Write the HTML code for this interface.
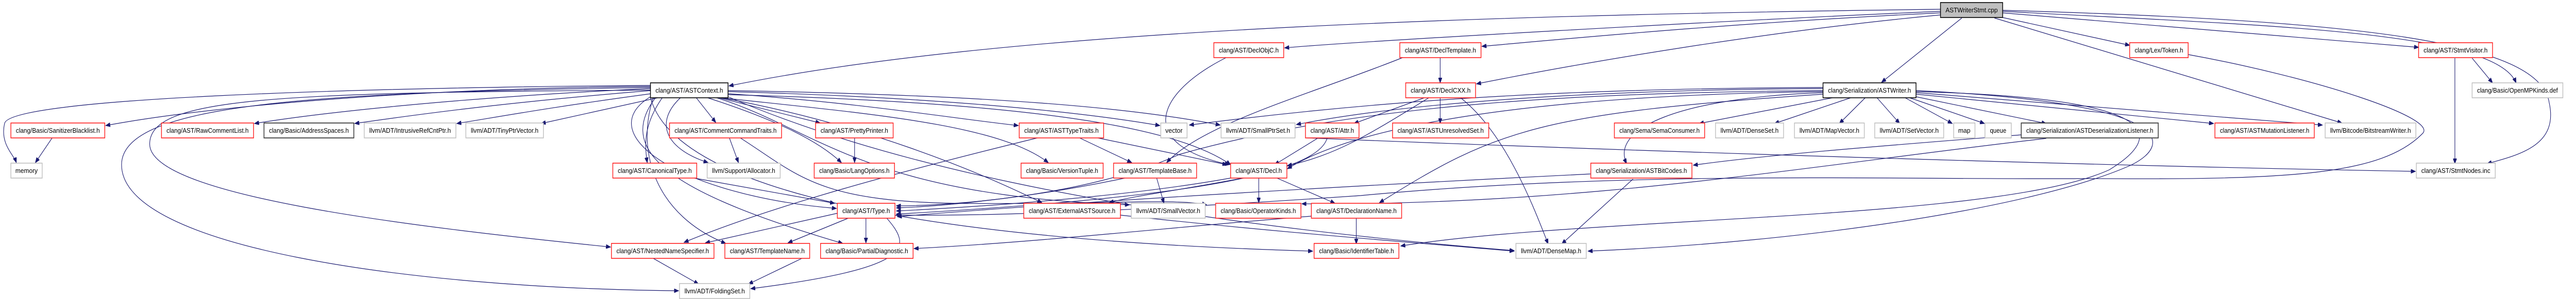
<!DOCTYPE html>
<html><head><meta charset="utf-8"><style>
html,body{margin:0;padding:0;background:#fff;overflow:hidden;width:100%;height:100%;}
svg{display:block;width:100vw;height:100vh;}
text{font-family:"Liberation Sans",sans-serif;font-size:12.5px;fill:#000;}
.r{fill:#fff;stroke:#ff2020;stroke-width:1.6;}
.g{fill:#fff;stroke:#bfbfbf;stroke-width:1.6;}
.k{fill:#fff;stroke:#000;stroke-width:1.6;}
.d{fill:#fff;stroke:#404040;stroke-width:1.8;}
.m{fill:#bfbfbf;stroke:#000;stroke-width:1.6;}
path.e{fill:none;stroke:#191970;stroke-width:1.2;marker-end:url(#a);}
</style></head><body>
<svg viewBox="0 0 5679 581" preserveAspectRatio="none" xmlns="http://www.w3.org/2000/svg">
<defs><marker id="a" markerUnits="userSpaceOnUse" markerWidth="11" markerHeight="8" refX="10" refY="4" orient="auto"><path d="M0,0 L10,4 L0,8 z" fill="#191970" stroke="#191970"/></marker></defs>
<g>
<path class="e" d="M4278,22 C3800,40 3000,80 2832,93"/>
<path class="e" d="M4278,25 C3800,45 3400,80 3267,90"/>
<path class="e" d="M4278,18 C3200,30 2200,60 1607,167"/>
<path class="e" d="M4278,29 C3900,60 3500,120 3255,163"/>
<path class="e" d="M4325,35 L4148,160"/>
<path class="e" d="M4415,34 L4695,88"/>
<path class="e" d="M4415,25 L5332,92"/>
<path class="e" d="M4415,22 C5000,50 5500,60 5547,161"/>
<path class="e" d="M4415,20 C5200,40 5600,80 5620,200 C5640,280 5560,300 5483,318"/>
<path class="e" d="M4397,35 L5163,239"/>
<path class="e" d="M4040,190 L3746,240"/>
<path class="e" d="M4080,190 L3912,240"/>
<path class="e" d="M4112,190 L4055,240"/>
<path class="e" d="M4138,190 L4188,240"/>
<path class="e" d="M4200,190 L4304,240"/>
<path class="e" d="M4210,190 L4375,240"/>
<path class="e" d="M4224,188 L4511,240"/>
<path class="e" d="M4224,183 L4880,240"/>
<path class="e" d="M4224,180 L5120,243"/>
<path class="e" d="M4019,180 C3700,190 3550,250 3586,318"/>
<path class="e" d="M4019,176 C3500,180 3000,200 2600,300 C2400,380 2100,400 1976,400"/>
<path class="e" d="M4019,178 C3400,185 3000,240 2838,328"/>
<path class="e" d="M4019,172 C3500,175 3100,200 2858,242"/>
<path class="e" d="M4019,170 C3400,172 3000,200 2622,243"/>
<path class="e" d="M4019,183 C3400,220 3300,250 3041,394"/>
<path class="e" d="M4224,176 C4800,200 4790,280 4700,320 C4500,400 4000,470 3501,488"/>
<path class="e" d="M4224,178 C4760,190 4780,260 4650,330 C4400,430 3500,420 3088,478"/>
<path class="e" d="M4456,262 C4200,280 3900,300 3733,321"/>
<path class="e" d="M4511,269 C4000,320 3500,400 2870,396"/>
<path class="e" d="M4824,106 C5100,150 5380,230 5340,260 C5250,340 5050,350 4605,347 C4200,350 3600,330 3000,380 C2500,410 2200,420 1976,418"/>
<path class="e" d="M2880,268 C3500,290 4500,320 5325,333"/>
<path class="e" d="M1434,168 C1000,170 500,200 233,244"/>
<path class="e" d="M1434,166 C800,170 20,190 10,240 C0,280 30,300 36,316"/>
<path class="e" d="M1434,172 C1000,190 700,220 561,240"/>
<path class="e" d="M1434,176 C1100,200 900,225 782,240"/>
<path class="e" d="M1436,182 C1200,210 1080,230 1007,240"/>
<path class="e" d="M1450,190 L1193,240"/>
<path class="e" d="M1460,190 C1420,240 1420,280 1427,316"/>
<path class="e" d="M1500,190 C1440,240 1470,290 1561,316"/>
<path class="e" d="M1535,190 L1578,238"/>
<path class="e" d="M1585,190 L1808,239"/>
<path class="e" d="M1560,190 C1700,230 1800,270 1855,316"/>
<path class="e" d="M1605,182 C1900,200 2100,230 2245,244"/>
<path class="e" d="M1605,178 C2100,190 2400,220 2557,244"/>
<path class="e" d="M1605,176 C2200,185 2500,210 2690,243"/>
<path class="e" d="M1590,190 C1900,220 2200,240 2311,316"/>
<path class="e" d="M1605,184 C2300,200 2600,250 2713,320"/>
<path class="e" d="M1590,190 C1900,240 2150,330 2297,394"/>
<path class="e" d="M1580,190 C1800,250 1900,380 2490,398"/>
<path class="e" d="M1434,188 C1300,260 1500,380 1844,405"/>
<path class="e" d="M1440,190 C1400,300 1450,420 1600,473"/>
<path class="e" d="M1445,190 C1350,300 1500,380 1858,473"/>
<path class="e" d="M1434,170 C700,180 268,200 268,320 C268,480 900,560 1496,565"/>
<path class="e" d="M1434,175 C600,180 330,190 330,280 C330,380 900,440 1346,480"/>
<path class="e" d="M1434,190 C1500,400 2200,470 2894,488"/>
<path class="e" d="M1605,188 C1900,300 2400,420 3338,487"/>
<path class="e" d="M115,268 L78,316"/>
<path class="e" d="M1848,414 L1555,472"/>
<path class="e" d="M1870,424 L1737,472"/>
<path class="e" d="M1909,424 L1909,472"/>
<path class="e" d="M1955,424 C2010,480 2020,520 1655,561"/>
<path class="e" d="M1768,502 L1650,552"/>
<path class="e" d="M1440,502 L1540,552"/>
<path class="e" d="M2287,268 C2000,330 1700,400 1508,471"/>
<path class="e" d="M2380,268 L2495,316"/>
<path class="e" d="M2420,268 L2705,320"/>
<path class="e" d="M1608,268 L1628,316"/>
<path class="e" d="M1632,268 C1760,340 1800,390 2100,395 C2400,398 2600,385 2660,398"/>
<path class="e" d="M1884,268 L1884,316"/>
<path class="e" d="M1530,346 L1840,395"/>
<path class="e" d="M2480,346 C2300,380 2100,400 1976,404"/>
<path class="e" d="M2550,346 L2566,395"/>
<path class="e" d="M2713,346 C2500,380 2200,400 1976,410"/>
<path class="e" d="M2740,346 C2600,370 2500,380 2445,394"/>
<path class="e" d="M2775,346 L2775,394"/>
<path class="e" d="M2815,346 L2943,395"/>
<path class="e" d="M2703,112 C2550,180 2500,280 2710,320"/>
<path class="e" d="M3092,112 C2900,180 2650,240 2572,316"/>
<path class="e" d="M3175,112 L3175,161"/>
<path class="e" d="M3140,190 L2985,240"/>
<path class="e" d="M3175,190 L3175,240"/>
<path class="e" d="M3150,190 C3020,260 2950,300 2838,322"/>
<path class="e" d="M3220,190 C3320,260 3380,400 3413,474"/>
<path class="e" d="M2906,268 L2810,320"/>
<path class="e" d="M2926,268 C2900,350 2500,390 1976,416"/>
<path class="e" d="M2990,424 L2990,474"/>
<path class="e" d="M2891,420 C2600,440 2300,470 2015,483"/>
<path class="e" d="M3600,348 L3443,474"/>
<path class="e" d="M3507,338 C3000,360 2400,390 1978,421"/>
<path class="e" d="M2470,418 C2800,450 3100,470 3338,488"/>
<path class="e" d="M5412,113 L5412,318"/>
<path class="e" d="M5450,113 L5495,161"/>
</g>
<g>
<rect class="m" x="4278" y="5" width="137" height="29"/><text x="4346.5" y="24" text-anchor="middle" textLength="115" lengthAdjust="spacingAndGlyphs">ASTWriterStmt.cpp</text>
<rect class="r" x="2676" y="83" width="154" height="29"/><text x="2753" y="102" text-anchor="middle" textLength="132" lengthAdjust="spacingAndGlyphs">clang/AST/DeclObjC.h</text>
<rect class="r" x="3086" y="83" width="179" height="29"/><text x="3175.5" y="102" text-anchor="middle" textLength="157" lengthAdjust="spacingAndGlyphs">clang/AST/DeclTemplate.h</text>
<rect class="r" x="4695" y="83" width="129" height="29"/><text x="4759.5" y="102" text-anchor="middle" textLength="107" lengthAdjust="spacingAndGlyphs">clang/Lex/Token.h</text>
<rect class="r" x="5332" y="83" width="163" height="29"/><text x="5413.5" y="102" text-anchor="middle" textLength="141" lengthAdjust="spacingAndGlyphs">clang/AST/StmtVisitor.h</text>
<rect class="k" x="1434" y="161" width="171" height="29"/><text x="1519.5" y="180" text-anchor="middle" textLength="149" lengthAdjust="spacingAndGlyphs">clang/AST/ASTContext.h</text>
<rect class="r" x="3099" y="161" width="154" height="29"/><text x="3176" y="180" text-anchor="middle" textLength="132" lengthAdjust="spacingAndGlyphs">clang/AST/DeclCXX.h</text>
<rect class="k" x="4019" y="161" width="205" height="29"/><text x="4121.5" y="180" text-anchor="middle" textLength="183" lengthAdjust="spacingAndGlyphs">clang/Serialization/ASTWriter.h</text>
<rect class="g" x="5450" y="161" width="200" height="29"/><text x="5550" y="180" text-anchor="middle" textLength="178" lengthAdjust="spacingAndGlyphs">clang/Basic/OpenMPKinds.def</text>

<rect class="r" x="24" y="239" width="207" height="29"/><text x="127.5" y="258" text-anchor="middle" textLength="185" lengthAdjust="spacingAndGlyphs">clang/Basic/SanitizerBlacklist.h</text>
<rect class="r" x="356" y="239" width="203" height="29"/><text x="457.5" y="258" text-anchor="middle" textLength="181" lengthAdjust="spacingAndGlyphs">clang/AST/RawCommentList.h</text>
<rect class="d" x="582" y="239" width="198" height="29"/><text x="681" y="258" text-anchor="middle" textLength="176" lengthAdjust="spacingAndGlyphs">clang/Basic/AddressSpaces.h</text>
<rect class="g" x="803" y="239" width="202" height="29"/><text x="904" y="258" text-anchor="middle" textLength="180" lengthAdjust="spacingAndGlyphs">llvm/ADT/IntrusiveRefCntPtr.h</text>
<rect class="g" x="1027" y="239" width="171" height="29"/><text x="1112.5" y="258" text-anchor="middle" textLength="149" lengthAdjust="spacingAndGlyphs">llvm/ADT/TinyPtrVector.h</text>
<rect class="r" x="1476" y="239" width="247" height="29"/><text x="1599.5" y="258" text-anchor="middle" textLength="225" lengthAdjust="spacingAndGlyphs">clang/AST/CommentCommandTraits.h</text>
<rect class="r" x="1798" y="239" width="171" height="29"/><text x="1883.5" y="258" text-anchor="middle" textLength="149" lengthAdjust="spacingAndGlyphs">clang/AST/PrettyPrinter.h</text>
<rect class="r" x="2247" y="239" width="186" height="29"/><text x="2340" y="258" text-anchor="middle" textLength="164" lengthAdjust="spacingAndGlyphs">clang/AST/ASTTypeTraits.h</text>
<rect class="g" x="2559" y="239" width="58" height="29"/><text x="2588" y="258" text-anchor="middle" textLength="38" lengthAdjust="spacingAndGlyphs">vector</text>
<rect class="g" x="2692" y="239" width="163" height="29"/><text x="2773.5" y="258" text-anchor="middle" textLength="141" lengthAdjust="spacingAndGlyphs">llvm/ADT/SmallPtrSet.h</text>
<rect class="r" x="2878" y="239" width="118" height="29"/><text x="2937" y="258" text-anchor="middle" textLength="96" lengthAdjust="spacingAndGlyphs">clang/AST/Attr.h</text>
<rect class="r" x="3070" y="239" width="212" height="29"/><text x="3176" y="258" text-anchor="middle" textLength="190" lengthAdjust="spacingAndGlyphs">clang/AST/ASTUnresolvedSet.h</text>
<rect class="r" x="3559" y="239" width="199" height="29"/><text x="3658.5" y="258" text-anchor="middle" textLength="177" lengthAdjust="spacingAndGlyphs">clang/Sema/SemaConsumer.h</text>
<rect class="g" x="3782" y="239" width="150" height="29"/><text x="3857" y="258" text-anchor="middle" textLength="128" lengthAdjust="spacingAndGlyphs">llvm/ADT/DenseSet.h</text>
<rect class="g" x="3956" y="239" width="154" height="29"/><text x="4033" y="258" text-anchor="middle" textLength="132" lengthAdjust="spacingAndGlyphs">llvm/ADT/MapVector.h</text>
<rect class="g" x="4133" y="239" width="152" height="29"/><text x="4209" y="258" text-anchor="middle" textLength="130" lengthAdjust="spacingAndGlyphs">llvm/ADT/SetVector.h</text>
<rect class="g" x="4307" y="239" width="47" height="29"/><text x="4330.5" y="258" text-anchor="middle" textLength="27" lengthAdjust="spacingAndGlyphs">map</text>
<rect class="g" x="4376" y="239" width="58" height="29"/><text x="4405" y="258" text-anchor="middle" textLength="36" lengthAdjust="spacingAndGlyphs">queue</text>
<rect class="d" x="4456" y="239" width="302" height="29"/><text x="4607" y="258" text-anchor="middle" textLength="280" lengthAdjust="spacingAndGlyphs">clang/Serialization/ASTDeserializationListener.h</text>
<rect class="r" x="4883" y="239" width="219" height="29"/><text x="4992.5" y="258" text-anchor="middle" textLength="197" lengthAdjust="spacingAndGlyphs">clang/AST/ASTMutationListener.h</text>
<rect class="g" x="5126" y="239" width="200" height="29"/><text x="5226" y="258" text-anchor="middle" textLength="178" lengthAdjust="spacingAndGlyphs">llvm/Bitcode/BitstreamWriter.h</text>

<rect class="g" x="24" y="317" width="69" height="29"/><text x="58.5" y="336" text-anchor="middle" textLength="49" lengthAdjust="spacingAndGlyphs">memory</text>
<rect class="r" x="1351" y="317" width="185" height="29"/><text x="1443.5" y="336" text-anchor="middle" textLength="163" lengthAdjust="spacingAndGlyphs">clang/AST/CanonicalType.h</text>
<rect class="g" x="1559" y="317" width="161" height="29"/><text x="1639.5" y="336" text-anchor="middle" textLength="139" lengthAdjust="spacingAndGlyphs">llvm/Support/Allocator.h</text>
<rect class="r" x="1795" y="317" width="177" height="29"/><text x="1883.5" y="336" text-anchor="middle" textLength="155" lengthAdjust="spacingAndGlyphs">clang/Basic/LangOptions.h</text>
<rect class="r" x="2251" y="317" width="181" height="29"/><text x="2341.5" y="336" text-anchor="middle" textLength="159" lengthAdjust="spacingAndGlyphs">clang/Basic/VersionTuple.h</text>
<rect class="r" x="2455" y="317" width="183" height="29"/><text x="2546.5" y="336" text-anchor="middle" textLength="161" lengthAdjust="spacingAndGlyphs">clang/AST/TemplateBase.h</text>
<rect class="r" x="2713" y="317" width="124" height="29"/><text x="2775" y="336" text-anchor="middle" textLength="102" lengthAdjust="spacingAndGlyphs">clang/AST/Decl.h</text>
<rect class="r" x="3507" y="317" width="223" height="29"/><text x="3618.5" y="336" text-anchor="middle" textLength="201" lengthAdjust="spacingAndGlyphs">clang/Serialization/ASTBitCodes.h</text>
<rect class="g" x="5327" y="317" width="174" height="29"/><text x="5414" y="336" text-anchor="middle" textLength="152" lengthAdjust="spacingAndGlyphs">clang/AST/StmtNodes.inc</text>

<rect class="r" x="1846" y="395" width="127" height="29"/><text x="1909.5" y="414" text-anchor="middle" textLength="105" lengthAdjust="spacingAndGlyphs">clang/AST/Type.h</text>
<rect class="r" x="2257" y="395" width="213" height="29"/><text x="2363.5" y="414" text-anchor="middle" textLength="191" lengthAdjust="spacingAndGlyphs">clang/AST/ExternalASTSource.h</text>
<rect class="g" x="2494" y="395" width="163" height="29"/><text x="2575.5" y="414" text-anchor="middle" textLength="141" lengthAdjust="spacingAndGlyphs">llvm/ADT/SmallVector.h</text>
<rect class="r" x="2680" y="395" width="188" height="29"/><text x="2774" y="414" text-anchor="middle" textLength="166" lengthAdjust="spacingAndGlyphs">clang/Basic/OperatorKinds.h</text>
<rect class="r" x="2891" y="395" width="199" height="29"/><text x="2990.5" y="414" text-anchor="middle" textLength="177" lengthAdjust="spacingAndGlyphs">clang/AST/DeclarationName.h</text>

<rect class="r" x="1348" y="473" width="226" height="29"/><text x="1461" y="492" text-anchor="middle" textLength="204" lengthAdjust="spacingAndGlyphs">clang/AST/NestedNameSpecifier.h</text>
<rect class="r" x="1598" y="473" width="187" height="29"/><text x="1691.5" y="492" text-anchor="middle" textLength="165" lengthAdjust="spacingAndGlyphs">clang/AST/TemplateName.h</text>
<rect class="r" x="1809" y="473" width="204" height="29"/><text x="1911" y="492" text-anchor="middle" textLength="182" lengthAdjust="spacingAndGlyphs">clang/Basic/PartialDiagnostic.h</text>
<rect class="r" x="2897" y="473" width="187" height="29"/><text x="2990.5" y="492" text-anchor="middle" textLength="165" lengthAdjust="spacingAndGlyphs">clang/Basic/IdentifierTable.h</text>
<rect class="g" x="3342" y="473" width="155" height="29"/><text x="3419.5" y="492" text-anchor="middle" textLength="133" lengthAdjust="spacingAndGlyphs">llvm/ADT/DenseMap.h</text>

<rect class="g" x="1498" y="551" width="155" height="29"/><text x="1575.5" y="570" text-anchor="middle" textLength="133" lengthAdjust="spacingAndGlyphs">llvm/ADT/FoldingSet.h</text>
</g>
</svg>
</body></html>
